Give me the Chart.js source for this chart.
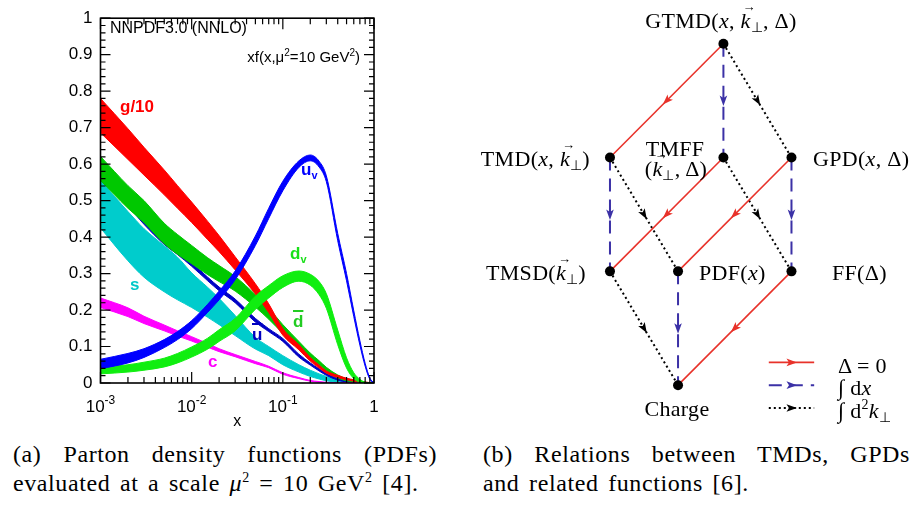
<!DOCTYPE html>
<html lang="en">
<head>
<meta charset="UTF-8">
<title>PDFs and TMD relations</title>
<script src="https://cdn.jsdelivr.net/npm/chart.js@4"></script>
<style>
  body { margin: 0; width: 914px; height: 505px; background: #fff; position: relative; overflow: hidden; font-family: "Liberation Serif", serif; color: #000; }
  #pdfBox { position: absolute; left: 0; top: 0; width: 385px; height: 432px; }
  #relBox { position: absolute; left: 460px; top: 0; width: 454px; height: 430px; }
  .lbl { position: absolute; white-space: nowrap; line-height: 1; }
  .sans { font-family: "Liberation Sans", Arial, sans-serif; }
  .tag { font-family: "Liberation Sans", Arial, sans-serif; font-weight: bold; font-size: 17px; }
  .tag .sb { font-size: 11px; position: relative; top: 4px; }
  .bar { text-decoration: overline; text-decoration-thickness: 2px; }
  .node { font-size: 22px; letter-spacing: 0.3px; }
  .sb { font-size: 14px; position: relative; top: 4px; }
  .sp { font-size: 14px; position: relative; top: -9px; }
  .vec { position: relative; display: inline-block; font-style: italic; }
  .vec::after { content: '\2192'; position: absolute; left: 2px; top: -10px; font-size: 13px; font-style: normal; }
  .cap { position: absolute; font-size: 24px; line-height: 29px; letter-spacing: 0.6px; word-spacing: 3px; }
  .just { text-align: justify; text-align-last: justify; }
</style>
</head>
<body>
  <div id="pdfBox"><canvas id="pdfChart" width="385" height="432"></canvas></div>
  <div id="relBox"><canvas id="relChart" width="454" height="430"></canvas></div>

  <!-- left panel texts -->
  <div class="lbl sans" style="left:110px; top:20px; font-size:16px;">NNPDF3.0 (NNLO)</div>
  <div class="lbl sans" style="right:554px; top:49px; font-size:15px;">xf(x,μ<span class="sp" style="font-size:10px;top:-6px">2</span>=10 GeV<span class="sp" style="font-size:10px;top:-6px">2</span>)</div>
  <div class="lbl tag" style="left:120px; top:98px; color:#ff0000;">g/10</div>
  <div class="lbl tag" style="left:301px; top:161px; color:#0000ff;">u<span class="sb">v</span></div>
  <div class="lbl tag" style="left:290px; top:245px; color:#18e018;">d<span class="sb">v</span></div>
  <div class="lbl tag" style="left:130px; top:276px; color:#00c8c8;">s</div>
  <div class="lbl tag" style="left:293px; top:313px; color:#22cc22;"><span class="bar">d</span></div>
  <div class="lbl tag" style="left:252px; top:326px; color:#0000c0;"><span class="bar">u</span></div>
  <div class="lbl tag" style="left:208px; top:353px; color:#ff00ff;">c</div>

  <!-- right panel texts -->
  <div class="lbl node" style="left:721px; top:10px; transform:translateX(-50%);">GTMD(<i>x</i>, <span class="vec">k</span><span class="sb">⊥</span>, Δ)</div>
  <div class="lbl node" style="right:324px; top:148px;">TMD(<i>x</i>, <span class="vec">k</span><span class="sb">⊥</span>)</div>
  <div class="lbl node" style="left:675px; top:138px; transform:translateX(-50%);">TMFF</div>
  <div class="lbl node" style="left:676px; top:158px; transform:translateX(-50%);">(<span class="vec">k</span><span class="sb">⊥</span>, Δ)</div>
  <div class="lbl node" style="left:813px; top:148px;">GPD(<i>x</i>, Δ)</div>
  <div class="lbl node" style="right:328px; top:262px;">TMSD(<span class="vec">k</span><span class="sb">⊥</span>)</div>
  <div class="lbl node" style="left:699px; top:262px;">PDF(<i>x</i>)</div>
  <div class="lbl node" style="left:832px; top:262px;">FF(Δ)</div>
  <div class="lbl node" style="left:677px; top:398px; transform:translateX(-50%);">Charge</div>
  <div class="lbl node" style="left:838px; top:355px;">Δ = 0</div>
  <div class="lbl node" style="left:838px; top:377px;">∫ d<i>x</i></div>
  <div class="lbl node" style="left:838px; top:400px;">∫ d<span class="sp">2</span><i>k</i><span class="sb">⊥</span></div>

  <!-- captions -->
  <div class="cap" style="left:13px; top:440px; width:424px;">
    <div class="just">(a) Parton density functions (PDFs)</div>
    <div>evaluated at a scale <i>μ</i><span class="sp">2</span> = 10 GeV<span class="sp">2</span> [4].</div>
  </div>
  <div class="cap" style="left:483px; top:440px; width:427px;">
    <div class="just">(b) Relations between TMDs, GPDs</div>
    <div>and related functions [6].</div>
  </div>

<script>
// ---- panel (a): xf(x, mu^2 = 10 GeV^2), bands ----
const xs = [0.001, 0.002, 0.003, 0.005, 0.007, 0.01, 0.015, 0.02, 0.03, 0.05, 0.07, 0.1,
            0.15, 0.2, 0.25, 0.3, 0.4, 0.5, 0.6, 0.7, 0.8, 0.9, 1.0];

const gLo = [.686, .613, .570, .516, .479, .440, .393, .360, .310, .244, .193, .131, .091, .060, .041, .027, .015, .009, .005, .0025, .001, 0, 0];
const gHi = [.780, .697, .646, .584, .541, .496, .443, .404, .346, .272, .217, .149, .105, .070, .049, .033, .021, .013, .009, .0055, .003, .001, 0];

const dbarLo = [.555, .479, .440, .382, .353, .327, .297, .278, .252, .208, .175, .136, .096, .068, .049, .033, .014, .006, .003, .001, 0, 0, 0];
const dbarHi = [.621, .541, .500, .438, .407, .377, .343, .322, .292, .242, .205, .160, .114, .082, .061, .043, .022, .012, .007, .003, .002, 0, 0];

const ubarLo = [.555, .485, .435, .380, .352, .320, .280, .253, .220, .167, .141, .114, .071, .049, .033, .021, .008, .0025, .001, .0005, 0, 0, 0];
const ubarHi = [.565, .495, .445, .390, .362, .330, .290, .263, .230, .177, .149, .122, .079, .055, .039, .027, .012, .0055, .003, .0015, 0, 0, 0];

const sLo = [.425, .335, .290, .250, .228, .207, .180, .160, .130, .093, .075, .050, .030, .018, .011, .006, .002, .001, 0, 0, 0, 0, 0];
const sHi = [.555, .470, .423, .376, .345, .302, .262, .232, .185, .125, .100, .075, .050, .035, .025, .018, .010, .006, .004, .003, .002, .001, 0];

const cLo = [.207, .182, .163, .143, .129, .115, .098, .086, .072, .053, .042, .024, .012, .005, .002, .001, 0, 0, 0, 0, 0, 0, 0];
const cHi = [.233, .206, .183, .159, .143, .127, .108, .094, .078, .059, .046, .028, .015, .007, .004, .002, .0005, 0, 0, 0, 0, 0, 0];

const dvLo = [.025, .030, .035, .044, .055, .071, .093, .114, .143, .202, .233, .262, .279, .268, .242, .205, .105, .041, .012, .002, 0, 0, 0];
const dvHi = [.043, .050, .057, .068, .081, .099, .123, .146, .177, .238, .267, .294, .307, .298, .278, .245, .145, .069, .028, .010, .002, 0, 0];

const uvLo = [.039, .055, .070, .097, .119, .149, .194, .228, .283, .377, .451, .527, .591, .609, .592, .552, .390, .280, .182, .104, .046, .010, 0];
const uvHi = [.065, .081, .094, .119, .141, .171, .216, .252, .307, .403, .479, .553, .609, .625, .608, .568, .410, .300, .198, .116, .054, .014, 0];

// tick positions and labels
const xLabelVals = [0.001, 0.01, 0.1, 1];
const xLabelBase = ['10', '10', '10', '1'];
const xLabelExp  = ['-3', '-2', '-1', ''];
const yLabelVals = [0, 0.1, 0.2, 0.3, 0.4, 0.5, 0.6, 0.7, 0.8, 0.9, 1];
const yLabelText = ['0', '0.1', '0.2', '0.3', '0.4', '0.5', '0.6', '0.7', '0.8', '0.9', '1'];

const xTickVals = [];
[0.001, 0.01, 0.1].forEach(d => {
  for (let m = 1; m <= 9; m++) xTickVals.push(+(d * m).toPrecision(3));
});
xTickVals.push(1);
const yTickVals = [];
for (let i = 0; i <= 50; i++) yTickVals.push(+(i * 0.02).toFixed(2));

// bottom to top drawing order
const bands = [
  { name: 's',    lo: sLo,    hi: sHi,    color: '#00cccc' },
  { name: 'ubar', lo: ubarLo, hi: ubarHi, color: '#0000c4' },
  { name: 'dbar', lo: dbarLo, hi: dbarHi, color: '#00c800' },
  { name: 'g/10', lo: gLo,    hi: gHi,    color: '#ff0000' },
  { name: 'c',    lo: cLo,    hi: cHi,    color: '#ff00ff' },
  { name: 'dv',   lo: dvLo,   hi: dvHi,   color: '#10ee10' },
  { name: 'uv',   lo: uvLo,   hi: uvHi,   color: '#0000ff' }
];

const pdfDatasets = [];
bands.forEach((b, k) => {
  const order = bands.length - k;
  const common = { borderColor: b.color, backgroundColor: b.color, borderWidth: 1,
                   pointRadius: 0, cubicInterpolationMode: 'monotone', order: order };
  pdfDatasets.push(Object.assign({ label: b.name + ' hi', fill: '+1',
                                   data: xs.map((x, i) => ({ x: x, y: b.hi[i] })) }, common));
  pdfDatasets.push(Object.assign({ label: b.name + ' lo', fill: false,
                                   data: xs.map((x, i) => ({ x: x, y: b.lo[i] })) }, common));
});

const sansFamily = '"Liberation Sans", Arial, sans-serif';

// ROOT style frame with ticks pointing inwards on all four sides, plus 10^n labels
const inwardTicks = {
  id: 'inwardTicks',
  afterDraw(chart) {
    const { ctx, chartArea: a } = chart;
    const sx = chart.scales.x, sy = chart.scales.y;
    ctx.save();
    ctx.strokeStyle = '#000';
    ctx.lineWidth = 1.2;
    ctx.beginPath();
    sx.ticks.forEach(t => {
      const p = sx.getPixelForValue(t.value);
      const len = xLabelVals.includes(t.value) ? 11 : 6;
      ctx.moveTo(p, a.bottom); ctx.lineTo(p, a.bottom - len);
      ctx.moveTo(p, a.top); ctx.lineTo(p, a.top + len);
    });
    sy.ticks.forEach(t => {
      const p = sy.getPixelForValue(t.value);
      const len = Math.round(t.value * 100) % 10 === 0 ? 10 : 5;
      ctx.moveTo(a.left, p); ctx.lineTo(a.left + len, p);
      ctx.moveTo(a.right, p); ctx.lineTo(a.right - len, p);
    });
    ctx.stroke();
    ctx.lineWidth = 1.6;
    ctx.strokeRect(a.left, a.top, a.right - a.left, a.bottom - a.top);

    // decade labels with a raised exponent
    ctx.fillStyle = '#000';
    ctx.textBaseline = 'alphabetic';
    ctx.textAlign = 'left';
    xLabelVals.forEach((v, i) => {
      const p = sx.getPixelForValue(v);
      ctx.font = '17px ' + sansFamily;
      const wb = ctx.measureText(xLabelBase[i]).width;
      ctx.font = '12px ' + sansFamily;
      const we = xLabelExp[i] ? ctx.measureText(xLabelExp[i]).width : 0;
      const x0 = p - (wb + we) / 2;
      ctx.font = '17px ' + sansFamily;
      ctx.fillText(xLabelBase[i], x0, a.bottom + 29);
      if (we) {
        ctx.font = '12px ' + sansFamily;
        ctx.fillText(xLabelExp[i], x0 + wb, a.bottom + 21);
      }
    });
    ctx.restore();
  }
};

new Chart(document.getElementById('pdfChart'), {
  type: 'line',
  data: { datasets: pdfDatasets },
  options: {
    responsive: false,
    animation: false,
    layout: { padding: { left: 0, right: 11, top: 5, bottom: 0 } },
    plugins: { legend: { display: false }, tooltip: { enabled: false } },
    scales: {
      x: {
        type: 'logarithmic', min: 0.001, max: 1,
        afterBuildTicks: s => { s.ticks = xTickVals.map(v => ({ value: v, major: xLabelVals.includes(v) })); },
        afterFit: s => { s.height = 49; },
        grid: { display: false, drawTicks: false },
        border: { display: false },
        ticks: { autoSkip: false, maxRotation: 0, callback: () => '' },
        title: { display: true, text: 'x', color: '#000', font: { family: sansFamily, size: 16 },
                 padding: { top: 0, bottom: 1 } }
      },
      y: {
        type: 'linear', min: 0, max: 1,
        afterBuildTicks: s => { s.ticks = yTickVals.map(v => ({ value: v })); },
        afterFit: s => { s.width = 100.5; },
        grid: { display: false, drawTicks: false },
        border: { display: false },
        ticks: {
          autoSkip: false, padding: 8, color: '#000', font: { family: sansFamily, size: 17 },
          callback: v => {
            const i = yLabelVals.findIndex(l => Math.abs(l - v) < 1e-6);
            return i < 0 ? '' : yLabelText[i];
          }
        }
      }
    }
  },
  plugins: [inwardTicks]
});

// ---- panel (b): relations diagram ----
const nodeNames = ['GTMD', 'TMD', 'TMFF', 'GPD', 'TMSD', 'PDF', 'FF', 'Charge'];
const nodeX = [5, 0, 5, 8, 0, 3, 8, 3];
const nodeY = [15, 10, 10, 10, 5, 5, 5, 0];
const deltaEdges = [[0, 1], [2, 4], [3, 5], [6, 7]];   // Delta = 0
const dxEdges    = [[0, 2], [1, 4], [3, 6], [5, 7]];   // int dx
const dkEdges    = [[0, 3], [1, 5], [2, 6], [4, 7]];   // int d2k
const legendX = [7, 9];
const legendY = [1, 0, -1];

const edgeStyles = [
  { edges: deltaEdges, color: '#e8322a', width: 1.6, dash: [] },
  { edges: dxEdges,    color: '#3b31a6', width: 2,   dash: [13, 8] },
  { edges: dkEdges,    color: '#000000', width: 2,   dash: [2, 3] }
];

const relDatasets = [];
edgeStyles.forEach((st, k) => {
  st.edges.forEach(e => {
    relDatasets.push({
      data: e.map(n => ({ x: nodeX[n], y: nodeY[n] })),
      showLine: true, borderColor: st.color, backgroundColor: st.color,
      borderWidth: st.width, borderDash: st.dash, pointRadius: 0, arrow: true, order: 1
    });
  });
  relDatasets.push({
    data: legendX.map(x => ({ x: x, y: legendY[k] })),
    showLine: true, borderColor: st.color, backgroundColor: st.color,
    borderWidth: st.width, borderDash: st.dash, pointRadius: 0, arrow: true, order: 1
  });
});
relDatasets.push({
  label: 'nodes',
  data: nodeX.map((x, i) => ({ x: x, y: nodeY[i] })),
  showLine: false, pointRadius: 5, pointBackgroundColor: '#000', pointBorderWidth: 0, order: 0
});

// arrow head in the middle of every edge
const midArrows = {
  id: 'midArrows',
  afterDatasetsDraw(chart) {
    const ctx = chart.ctx;
    chart.data.datasets.forEach((ds, i) => {
      if (!ds.arrow) return;
      const pts = chart.getDatasetMeta(i).data;
      const p0 = pts[0], p1 = pts[1];
      const ang = Math.atan2(p1.y - p0.y, p1.x - p0.x);
      ctx.save();
      ctx.translate((p0.x + p1.x) / 2, (p0.y + p1.y) / 2);
      ctx.rotate(ang);
      ctx.fillStyle = ds.borderColor;
      ctx.beginPath();
      ctx.moveTo(5.5, 0);
      ctx.lineTo(-5, -3.8);
      ctx.lineTo(-2.5, 0);
      ctx.lineTo(-5, 3.8);
      ctx.closePath();
      ctx.fill();
      ctx.restore();
    });
  }
};

new Chart(document.getElementById('relChart'), {
  type: 'scatter',
  data: { datasets: relDatasets },
  options: {
    responsive: false,
    animation: false,
    layout: { padding: 0 },
    plugins: { legend: { display: false }, tooltip: { enabled: false } },
    scales: {
      x: { type: 'linear', display: false, min: -6.39, max: 13.18 },
      y: { type: 'linear', display: false, min: -1.75, max: 16.7 }
    }
  },
  plugins: [midArrows]
});
</script>
</body>
</html>
